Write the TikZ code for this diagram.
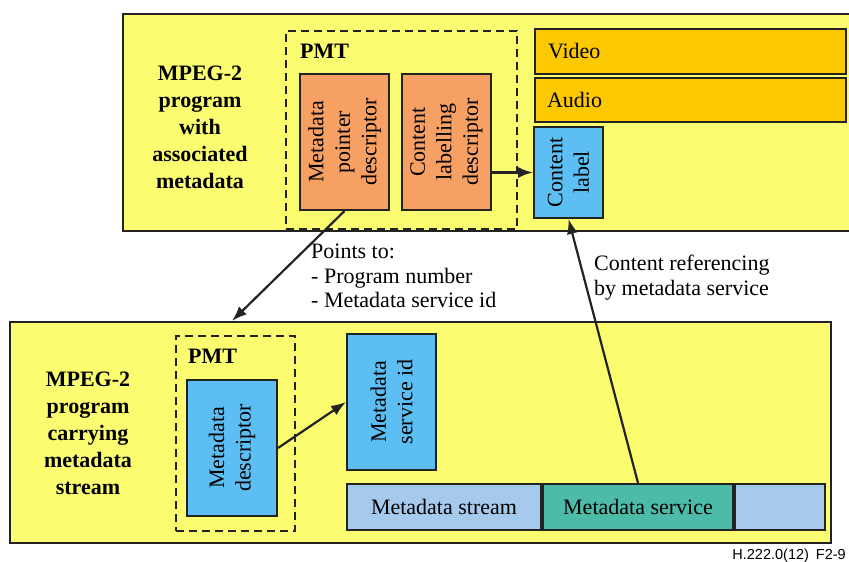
\documentclass[tikz,border=0pt]{standalone}
\usepackage{fontspec}
\setmainfont{Liberation Serif}
\newfontfamily\figsans{Liberation Sans}
\usetikzlibrary{arrows.meta}
\definecolor{bgyellow}{RGB}{252,252,112}
\definecolor{descorange}{RGB}{247,160,100}
\definecolor{avorange}{RGB}{252,200,0}
\definecolor{idblue}{RGB}{92,190,242}
\definecolor{strblue}{RGB}{166,202,236}
\definecolor{svcteal}{RGB}{76,188,168}
\definecolor{edge}{RGB}{35,35,35}
\begin{document}
\begin{tikzpicture}[x=1pt, y=-1pt,
	panel/.style={draw=edge, line width=2pt, fill=bgyellow, inner sep=0pt, anchor=north west},
	pmt/.style={draw=edge, line width=2pt, dash pattern=on 8pt off 5pt, inner sep=0pt, anchor=north west},
	box/.style={draw=edge, line width=2pt, inner sep=0pt, font=\fontsize{22}{26.5}\selectfont, align=center},
	vbox/.style={box, rotate=90},
	title/.style={font=\fontsize{22}{27}\selectfont\bfseries, align=center},
	note/.style={font=\fontsize{22}{24.5}\selectfont, align=left, anchor=north west, inner sep=0pt},
	arr/.style={draw=edge, line width=2.2pt, -{Latex[length=15pt,width=11pt]}}]
	\useasboundingbox (0,0) rectangle (849,562);
	\clip (0,0) rectangle (849,562);

	\node[panel, minimum width=740, minimum height=217] (toppanel) at (122,13) {};
	\node[panel, minimum width=821, minimum height=221] (botpanel) at (9,321) {};
	\node[title] (toptitle) at (200,127) {MPEG-2\\program\\with\\associated\\metadata};
	\node[title] (bottitle) at (88,433) {MPEG-2\\program\\carrying\\metadata\\stream};

	\node[pmt, minimum width=231, minimum height=198] (toppmt) at (285,30) {};
	\node[title, anchor=base west, inner sep=0pt] (toppmtlbl) at (300,58) {PMT};
	\node[vbox, fill=descorange, minimum width=136, minimum height=89] (mpd) at (344.5,142) {Metadata\\pointer\\descriptor};
	\node[vbox, fill=descorange, minimum width=136, minimum height=89] (cld) at (446.5,142) {Content\\labelling\\descriptor};

	\node[box, fill=avorange, anchor=north west, minimum width=311, minimum height=45, text width=285, inner xsep=13, align=left] (video) at (534,28) {Video};
	\node[box, fill=avorange, anchor=north west, minimum width=311, minimum height=44, text width=287, inner xsep=12, align=left] (audio) at (534,77) {Audio};
	\node[vbox, fill=idblue, minimum width=91, minimum height=69] (cl) at (568.5,172.5) {Content\\label};

	\node[pmt, minimum width=119, minimum height=195] (botpmt) at (175,335) {};
	\node[title, anchor=base west, inner sep=0pt] (botpmtlbl) at (188,363) {PMT};
	\node[vbox, fill=idblue, minimum width=136, minimum height=90] (md) at (232,448) {Metadata\\descriptor};
	\node[vbox, fill=idblue, minimum width=136, minimum height=89] (msid) at (391.5,402) {Metadata\\service id};

	\node[box, fill=strblue, anchor=north west, minimum width=194, minimum height=46] (mstream) at (346,483) {Metadata stream};
	\node[box, fill=svcteal, anchor=north west, minimum width=190, minimum height=46] (msvc) at (mstream.north east) {Metadata service};
	\node[box, fill=strblue, anchor=north west, minimum width=90, minimum height=46] (mrest) at (msvc.north east) {};

	\node[note] (pointsto) at (311,244) {Points to:\\- Program number\\- Metadata service id};
	\node[note] (contref) at (594,255) {Content referencing\\by metadata service};
	\node[font=\figsans\fontsize{14.5}{17}\selectfont, anchor=base east, inner sep=0pt] (figid) at (846,559) {H.222.0(12)\hspace{7pt}F2-9};

	\coordinate (ptr) at (232,321);
	\draw[arr] (mpd.west) -- (ptr);
	\draw[arr] (cld.south |- cl.north) -- (cl.north);
	\draw[arr] (md.south) -- (msid.north);
	\draw[arr] (msvc.north) -- (cl.west);
\end{tikzpicture}
\end{document}
